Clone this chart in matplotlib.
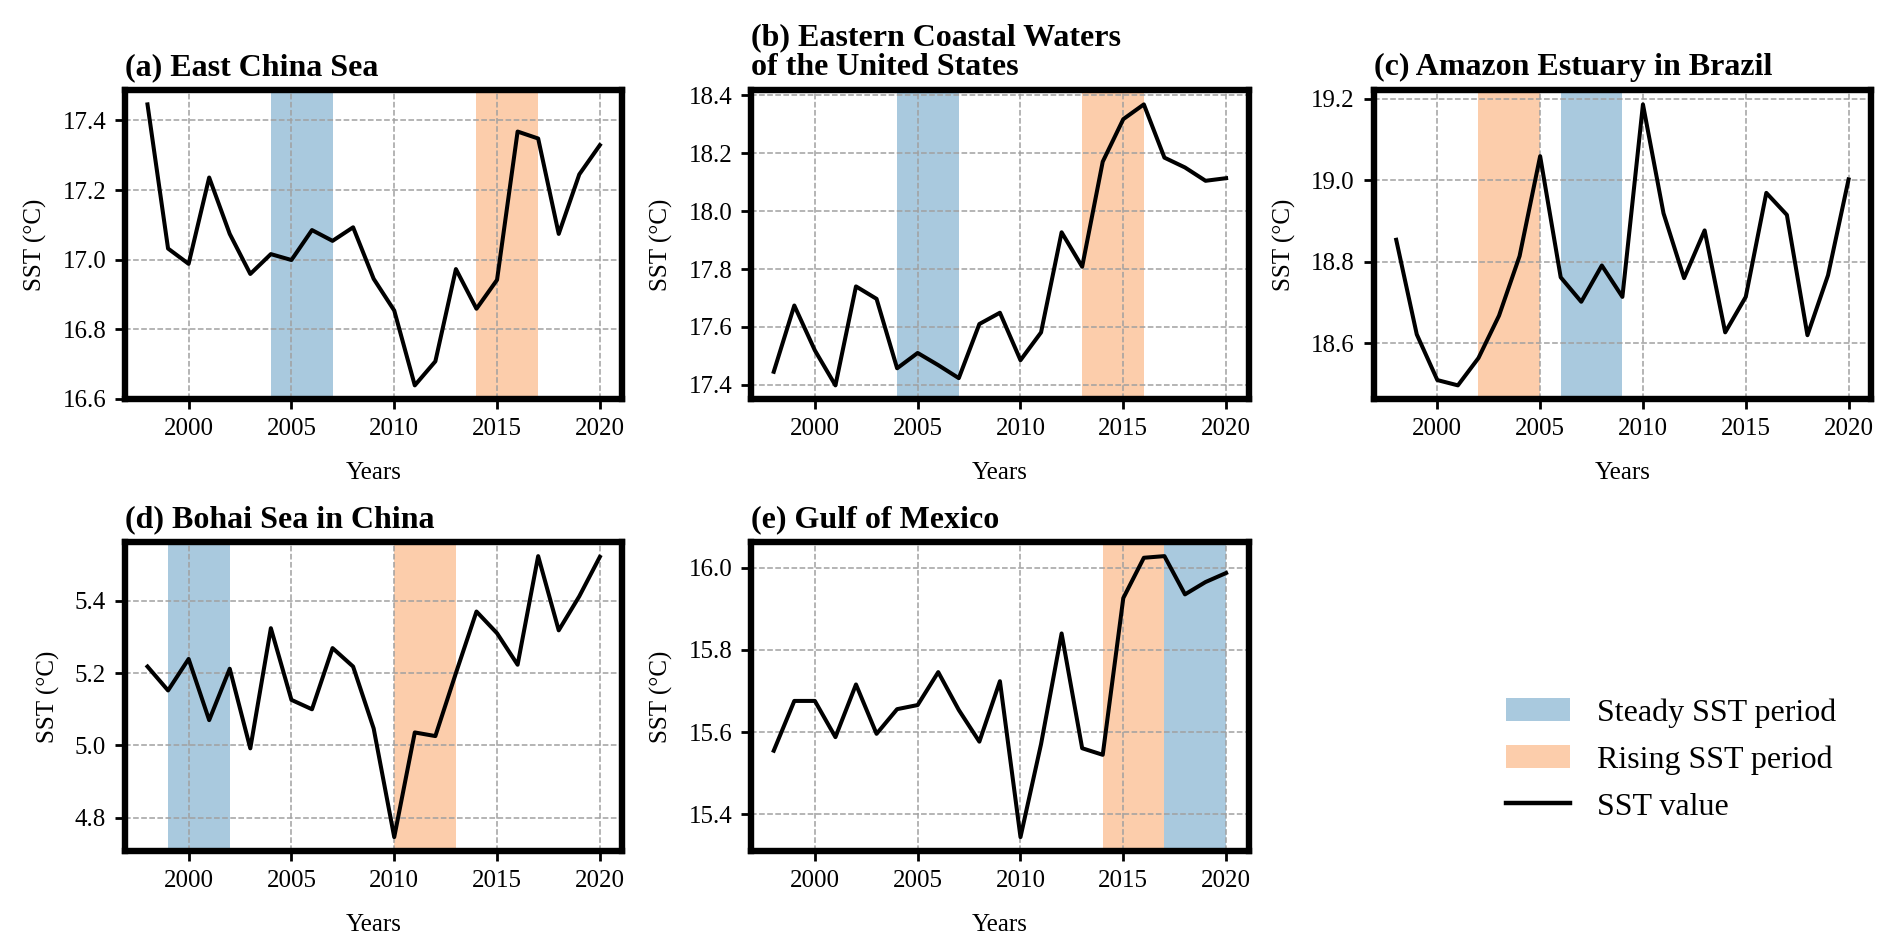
import matplotlib
matplotlib.use("Agg")
import matplotlib.pyplot as plt
from matplotlib.patches import Patch
from matplotlib.lines import Line2D
from matplotlib.ticker import FormatStrFormatter

plt.rcParams['font.family'] = ['Liberation Serif', 'DejaVu Serif']

years = list(range(1998, 2021))

titles = ["(a) East China Sea",
          "(b) Eastern Coastal Waters\nof the United States",
          "(c) Amazon Estuary in Brazil",
          "(d) Bohai Sea in China",
          "(e) Gulf of Mexico"]

sst_a = [17.446, 17.032, 16.988, 17.236, 17.074, 16.959, 17.016, 16.999, 17.085, 17.054,
         17.093, 16.945, 16.854, 16.639, 16.708, 16.973, 16.859, 16.942, 17.368, 17.348,
         17.074, 17.245, 17.329]
sst_b = [17.445, 17.674, 17.519, 17.398, 17.740, 17.697, 17.457, 17.510, 17.468, 17.423,
         17.610, 17.649, 17.485, 17.581, 17.927, 17.808, 18.171, 18.318, 18.369, 18.185,
         18.151, 18.105, 18.114]
sst_c = [18.854, 18.622, 18.510, 18.497, 18.564, 18.668, 18.814, 19.059, 18.762, 18.702,
         18.791, 18.714, 19.186, 18.919, 18.760, 18.877, 18.627, 18.714, 18.969, 18.915,
         18.620, 18.767, 19.002]
sst_d = [5.218, 5.152, 5.239, 5.070, 5.212, 4.992, 5.324, 5.126, 5.100, 5.269,
         5.218, 5.047, 4.747, 5.036, 5.026, 5.200, 5.370, 5.310, 5.223, 5.523,
         5.318, 5.412, 5.521]
sst_e = [15.555, 15.676, 15.676, 15.588, 15.716, 15.596, 15.656, 15.666, 15.746, 15.654,
         15.577, 15.724, 15.345, 15.571, 15.840, 15.561, 15.545, 15.926, 16.024, 16.028,
         15.935, 15.965, 15.987]

# (start, end) of periods
steady = [(2004, 2007), (2004, 2007), (2006, 2009), (1999, 2002), (2017, 2020)]
rising = [(2014, 2017), (2013, 2016), (2002, 2005), (2010, 2013), (2014, 2017)]

series = [sst_a, sst_b, sst_c, sst_d, sst_e]
xticks = [2000, 2005, 2010, 2015, 2020]

blue = '#a9c9de'
orange = '#fccdab'

fig = plt.figure(figsize=(18.92, 9.51), dpi=100)

lefts = [0.066, 0.397, 0.726]
w = 0.263
row_bottom = [0.580, 0.105]
h = 0.325

positions = [(lefts[0], row_bottom[0]), (lefts[1], row_bottom[0]), (lefts[2], row_bottom[0]),
             (lefts[0], row_bottom[1]), (lefts[1], row_bottom[1])]

for i, (pos, vals) in enumerate(zip(positions, series)):
    ax = fig.add_axes([pos[0], pos[1], w, h])
    ax.axvspan(steady[i][0], steady[i][1], color=blue, lw=0, zorder=1)
    ax.axvspan(rising[i][0], rising[i][1], color=orange, lw=0, zorder=1)
    ax.plot(years, vals, color='black', lw=2.9, zorder=3)
    ax.set_xticks(xticks)
    ax.grid(True, ls='--', color='#a0a0a0', lw=1.1, zorder=2)
    ax.set_axisbelow(False)
    for sp in ax.spines.values():
        sp.set_linewidth(4.6)
        sp.set_zorder(4)
    ax.tick_params(axis='both', labelsize=18, width=2.0, length=7.5, direction='out', pad=6)
    ax.yaxis.set_major_formatter(FormatStrFormatter('%.1f'))
    ax.set_xlabel('Years', fontsize=18, labelpad=16)
    ax.set_ylabel('SST (°C)', fontsize=18, labelpad=11)
    ax.set_title(titles[i], loc='left', fontsize=23, fontweight='bold', pad=11, linespacing=1.05)

handles = [Patch(facecolor=blue, edgecolor='none', label='Steady SST period'),
           Patch(facecolor=orange, edgecolor='none', label='Rising SST period'),
           Line2D([0], [0], color='black', lw=3.2, label='SST value')]
fig.legend(handles=handles, loc='center left', bbox_to_anchor=(0.796, 0.201),
           frameon=False, fontsize=23, handlelength=2.0, handleheight=0.7,
           labelspacing=0.55, handletextpad=0.85, borderpad=0, borderaxespad=0)

fig.savefig('out.png', dpi=100)
